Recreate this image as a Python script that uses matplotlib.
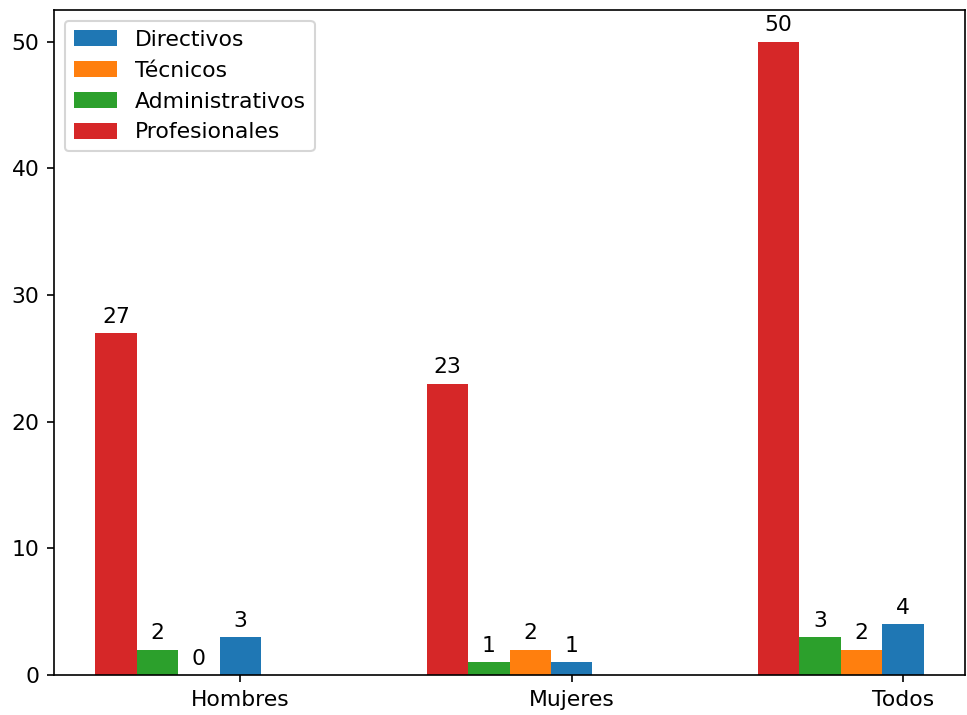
import matplotlib
matplotlib.use("Agg")
import matplotlib.pyplot as plt
import numpy as np

groups = ["Hombres", "Mujeres", "Todos"]
directivos = [3, 1, 4]
tecnicos = [0, 2, 2]
administrativos = [2, 1, 3]
profesionales = [27, 23, 50]

series = [
    ("Directivos", directivos, "#1f77b4"),
    ("Técnicos", tecnicos, "#ff7f0e"),
    ("Administrativos", administrativos, "#2ca02c"),
    ("Profesionales", profesionales, "#d62728"),
]

plt.rcParams["font.size"] = 10.5
dpi = 150
fig = plt.figure(figsize=(967 / dpi, 715 / dpi), dpi=dpi)
ax = fig.add_axes([54 / 967, 40 / 715, 911 / 967, 665 / 715])

x = np.arange(len(groups))
w = 0.125
for i, (name, vals, col) in enumerate(series):
    bars = ax.bar(x - i * w, vals, w, label=name, color=col)
    ax.bar_label(bars, padding=3)

ax.set_xticks(x)
ax.set_xticklabels(groups)
ax.legend(loc="upper left")
fig.savefig("out.png", dpi=dpi)
